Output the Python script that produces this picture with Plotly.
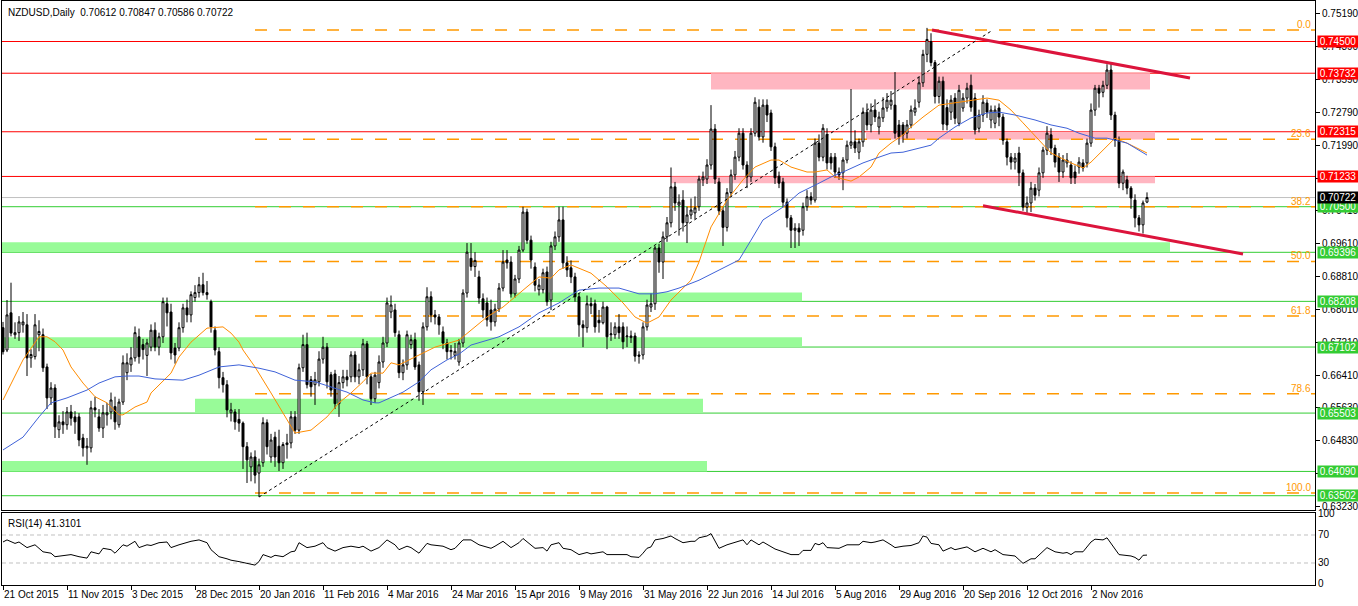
import plotly.graph_objects as go

# ---------------- data (prices in pips, 1e-4) ----------------
PIP = 10000.0
opens = [6757,6703,6793,6740,6745,6764,6764,6684,6687,6740,
6740,6662,6587,6611,6510,6529,6522,6553,6541,6541,
6490,6466,6466,6563,6541,6514,6546,6553,6566,6522,
6577,6648,6667,6684,6735,6716,6690,6710,6751,6710,
6735,6815,6795,6708,6708,6757,6805,6788,6830,6842,
6861,6842,6820,6751,6699,6636,6619,6551,6553,6535,
6526,6469,6420,6444,6405,6430,6527,6444,6492,6470,
6430,6474,6478,6541,6509,6660,6716,6631,6619,6626,
6681,6710,6643,6645,6573,6624,6638,6638,6691,6638,
6655,6718,6638,6585,6624,6674,6720,6795,6800,6740,
6648,6667,6716,6728,6667,6602,6759,6832,6788,6783,
6747,6720,6699,6690,6674,6720,6841,6925,6905,6880,
6827,6817,6800,6771,6802,6853,6921,6916,6839,6875,
6945,7037,6969,6904,6849,6849,6892,6824,6955,6977,
7018,6914,6902,6880,6832,6764,6757,6815,6815,6775,
6769,6807,6740,6740,6759,6759,6735,6733,6737,6691,
6691,6759,6807,6815,6950,6916,6977,7011,7098,7054,
7066,7011,7030,7035,7050,7115,7117,7151,7238,7110,
7040,7000,7084,7127,7170,7228,7151,7122,7228,7291,
7219,7296,7277,7195,7124,7110,7061,7023,6993,6998,
6993,7050,7074,7066,7204,7170,7225,7170,7170,7134,
7132,7163,7199,7207,7182,7207,7279,7248,7284,7243,
7265,7289,7296,7296,7248,7248,7228,7248,7279,7303,
7350,7419,7450,7399,7317,7354,7290,7279,7313,7252,
7289,7313,7344,7313,7240,7272,7301,7260,7252,7289,
7267,7207,7170,7158,7180,7132,7049,7059,7095,7090,
7132,7187,7224,7192,7170,7134,7156,7151,7134,7146,
7156,7156,7204,7284,7337,7327,7344,7381,7272,7211,
7107,7115,7095,7066,7023,7006,7061.2]
highs = [6771,6824,6866,6770,6785,6795,6790,6705,6790,6775,
6755,6670,6625,6620,6545,6555,6565,6570,6555,6550,
6500,6490,6580,6590,6560,6570,6575,6600,6590,6585,
6690,6695,6710,6760,6755,6730,6730,6765,6770,6745,
6830,6830,6815,6720,6770,6815,6825,6845,6860,6880,
6890,6870,6825,6760,6710,6650,6630,6575,6560,6560,
6530,6480,6455,6460,6440,6540,6535,6500,6505,6510,
6480,6500,6555,6555,6670,6740,6745,6640,6650,6700,
6735,6720,6650,6655,6640,6655,6655,6700,6700,6670,
6730,6725,6645,6650,6690,6735,6830,6835,6815,6750,
6680,6750,6740,6745,6675,6770,6855,6845,6800,6790,
6760,6730,6715,6720,6730,6850,6962,6962,6940,6895,
6840,6830,6825,6815,6865,6945,6945,6930,6885,6955,
7050,7045,6980,6915,6875,6900,6905,6965,6990,7050,
7050,6930,6920,6890,6840,6775,6835,6830,6825,6800,
6820,6810,6770,6770,6790,6770,6760,6750,6745,6700,
6770,6825,6840,6955,6960,6990,7025,7145,7110,7080,
7090,7050,7070,7075,7125,7135,7165,7296,7250,7120,
7050,7095,7140,7185,7240,7240,7160,7240,7315,7310,
7310,7310,7285,7205,7135,7120,7070,7030,7010,7010,
7060,7090,7085,7215,7225,7250,7240,7180,7180,7145,
7170,7210,7335,7235,7215,7290,7300,7300,7310,7280,
7315,7325,7330,7376,7260,7255,7260,7295,7310,7365,
7430,7483,7470,7405,7365,7365,7310,7320,7325,7345,
7325,7350,7370,7325,7285,7320,7310,7295,7295,7300,
7275,7215,7180,7180,7195,7140,7075,7110,7105,7145,
7195,7245,7240,7200,7180,7175,7180,7160,7150,7170,
7165,7215,7300,7345,7345,7355,7395,7400,7280,7220,
7140,7125,7100,7080,7030,7065,7084.7]
lows = [6692,6698,6736,6730,6725,6745,6640,6660,6680,6700,
6650,6560,6570,6490,6490,6500,6510,6520,6500,6470,
6445,6425,6455,6540,6505,6490,6520,6535,6510,6515,
6570,6630,6650,6675,6670,6680,6640,6700,6700,6690,
6720,6760,6680,6670,6700,6745,6770,6770,6820,6830,
6835,6825,6745,6690,6610,6600,6540,6530,6510,6505,
6415,6381,6385,6380,6347,6420,6450,6430,6420,6410,
6415,6440,6465,6500,6500,6650,6610,6590,6570,6615,
6670,6610,6590,6560,6541,6610,6615,6625,6625,6620,
6640,6620,6570,6575,6610,6660,6710,6780,6735,6635,
6630,6655,6705,6655,6580,6570,6750,6770,6765,6740,
6705,6680,6680,6680,6665,6710,6830,6895,6880,6815,
6780,6760,6750,6760,6795,6845,6900,6830,6830,6865,
6940,6960,6900,6845,6835,6840,6810,6800,6945,6965,
6900,6880,6865,6820,6735,6710,6745,6790,6745,6745,
6765,6705,6725,6730,6730,6705,6710,6720,6675,6670,
6680,6750,6795,6800,6890,6875,6965,7000,7040,6980,
6990,6962,7020,7020,7040,7100,7105,7140,7105,7030,
6955,6990,7075,7115,7160,7140,7095,7110,7220,7210,
7205,7255,7185,7105,7095,7050,7000,6950,6950,6955,
6980,7040,7055,7060,7160,7160,7140,7140,7120,7115,
7090,7155,7190,7180,7165,7195,7235,7230,7255,7225,
7255,7280,7285,7215,7200,7205,7215,7240,7270,7290,
7340,7400,7390,7300,7300,7235,7235,7260,7250,7245,
7280,7300,7280,7225,7230,7255,7265,7240,7240,7245,
7200,7150,7140,7140,7100,7040,7035,7037,7065,7075,
7120,7175,7175,7145,7110,7120,7145,7105,7105,7130,
7135,7145,7195,7270,7290,7315,7335,7260,7195,7095,
7090,7080,7045,7000,6990,6985,7058.6]
closes = [6699,6788,6744,6745,6771,6771,6684,6692,6764,6748,
6660,6587,6611,6517,6529,6522,6553,6538,6529,6485,
6466,6470,6563,6558,6514,6551,6551,6582,6529,6577,
6672,6672,6684,6745,6687,6704,6720,6751,6710,6735,
6820,6793,6696,6691,6757,6805,6788,6837,6842,6861,
6842,6837,6759,6703,6636,6619,6558,6558,6529,6526,
6469,6437,6444,6400,6425,6527,6469,6485,6444,6430,
6474,6478,6541,6509,6660,6716,6619,6614,6631,6681,
6710,6626,6606,6573,6624,6638,6631,6691,6638,6655,
6718,6638,6585,6642,6674,6720,6817,6812,6745,6648,
6667,6740,6728,6662,6602,6759,6832,6788,6783,6764,
6720,6699,6702,6700,6720,6841,6940,6905,6920,6829,
6800,6776,6771,6802,6853,6916,6914,6839,6875,6945,
7037,6969,6921,6860,6860,6890,6820,6955,6977,7018,
6914,6897,6880,6832,6764,6757,6815,6810,6759,6769,
6807,6735,6742,6759,6745,6723,6737,6737,6688,6688,
6759,6812,6815,6950,6916,6977,7011,7098,7059,7061,
7011,7030,7042,7047,7117,7122,7151,7238,7117,7040,
7000,7084,7127,7170,7228,7151,7122,7228,7303,7219,
7296,7272,7195,7120,7107,7061,7023,6993,6998,6989,
7050,7074,7066,7204,7170,7240,7156,7156,7134,7127,
7163,7199,7207,7192,7207,7279,7248,7284,7267,7267,
7289,7308,7308,7228,7219,7224,7248,7284,7289,7350,
7419,7455,7399,7317,7354,7250,7248,7308,7264,7332,
7313,7337,7291,7236,7272,7303,7279,7284,7284,7267,
7211,7170,7158,7168,7132,7049,7059,7095,7078,7132,
7187,7228,7192,7158,7134,7163,7163,7120,7120,7158,
7144,7204,7284,7337,7325,7344,7381,7272,7211,7107,
7134,7095,7071,7023,7006,7059,7072.2]

# moving averages: (bar, pips)
ma_fast = [(0,6582),(5,6679),(9,6735),(11,6735),(13,6723),(15,6703),(17,6662),(20,6623),(23,6590),(26,6575),
(29,6546),(30,6546),(33,6565),(36,6577),(37,6599),(42,6647),(44,6686),(47,6722),(51,6756),(55,6759),
(57,6744),(59,6722),(60,6703),(63,6662),(67,6599),(71,6534),(73,6502),(77,6509),(78,6517),(81,6541),
(84,6575),(87,6599),(90,6626),(92,6647),(95,6647),(97,6672),(99,6667),(103,6686),(108,6710),(114,6727),
(117,6752),(121,6783),(125,6807),(127,6824),(131,6856),(134,6880),(137,6877),(139,6897),(142,6909),(145,6897),
(147,6889),(151,6856),(155,6817),(158,6783),(161,6768),(164,6783),(167,6824),(172,6872),(174,6916),(177,7001),
(181,7066),(185,7115),(188,7146),(192,7163),(194,7163),(197,7146),(201,7134),(203,7134),(206,7139),(208,7122),
(212,7112),(214,7122),(217,7146),(219,7180),(222,7204),(225,7224),(227,7243),(230,7267),(234,7296),(239,7303),
(243,7308),(246,7313),(249,7308),(252,7284),(255,7253),(259,7211),(262,7180),(267,7156),(270,7144),(272,7158),
(276,7195),(278,7216),(281,7204),(286,7180)]
ma_slow = [(0,6461),(5,6492),(9,6541),(12,6575),(16,6587),(21,6606),(24,6623),(28,6638),(31,6640),(34,6640),
(38,6633),(45,6630),(49,6642),(54,6662),(59,6667),(64,6659),(68,6650),(73,6630),(78,6626),(82,6614),
(86,6601),(90,6582),(93,6575),(94,6575),(97,6589),(100,6601),(104,6626),(107,6655),(111,6679),(114,6693),
(117,6715),(124,6735),(129,6759),(134,6793),(139,6817),(144,6848),(149,6853),(154,6853),(159,6839),(163,6839),
(166,6844),(169,6853),(174,6872),(184,6921),(187,6969),(190,7018),(195,7049),(199,7083),(204,7107),(207,7122),
(210,7134),(215,7156),(219,7170),(222,7180),(225,7182),(229,7192),(232,7199),(234,7216),(238,7243),(242,7265),
(246,7277),(249,7279),(253,7272),(258,7260),(262,7248),(266,7240),(269,7228),(273,7216),(276,7216),(281,7204),
(286,7175)]
# RSI(14): (bar, value)
rsi_points = [(0,60),(1,63),(3,58),(4,60),(6,52),(8,56),(10,46),(12,44),(13,39),(15,40),(17,42),(19,39),(21,37),
(22,46),(24,43),(25,51),(27,49),(28,44),(30,56),(31,54),(33,61),(34,52),(36,56),(37,55),(39,59),(41,60),(42,52),
(44,56),(47,61),(49,63),(51,59),(52,49),(54,39),(56,36),(57,34),(59,32),(61,30),(63,27),(64,32),(65,42),(67,38),
(68,41),(70,39),(72,46),(73,47),(74,59),(76,52),(78,54),(80,59),(81,52),(83,47),(85,52),(87,54),(89,52),(90,54),
(92,47),(94,52),(96,63),(98,56),(99,49),(101,54),(102,52),(104,44),(106,58),(107,56),(110,54),(112,49),
(113,51),(115,63),(117,63),(119,56),(122,51),(123,54),(125,61),(127,52),(129,59),(130,65),(132,56),(133,51),
(135,52),(136,47),(137,56),(139,59),(140,51),(142,49),(144,42),(146,45),(147,43),(150,46),(151,42),(153,42),
(156,42),(157,39),(159,38),(160,44),(161,51),(162,53),(163,63),(165,65),(167,68.6),(168,65),(170,59),(172,61),
(173,61),(174,66),(176,68.6),(177,72),(179,51),(181,56),(183,60),(185,63),(186,56),(187,63),(189,56),(190,60),
(193,50),(195,46),(197,42),(199,42),(200,48),(202,48),(203,58),(204,56),(205,59),(206,52),(209,51),(211,56),
(214,56),(215,61),(217,59),(218,60),(220,63),(222,56),(223,52),(225,54),(227,55),(229,59),(230,68.6),(231,67),
(232,58),(234,56),(235,47),(237,52),(238,49),(241,53),(243,46),(245,51),(247,46),(248,49),(250,42),(253,40),
(255,29.5),(257,36),(258,36),(261,52),(263,46),(265,44),(266,45),(267,42),(268,46),(270,46),(272,60),(273,64),
(275,63),(276,66),(279,42),(282,40),(283,38),(284,34),(285,41),(286,41.31)]

date_labels = ["21 Oct 2015","11 Nov 2015","3 Dec 2015","28 Dec 2015","20 Jan 2016","11 Feb 2016",
               "4 Mar 2016","24 Mar 2016","15 Apr 2016","9 May 2016","31 May 2016","22 Jun 2016",
               "14 Jul 2016","5 Aug 2016","29 Aug 2016","20 Sep 2016","12 Oct 2016","2 Nov 2016"]
BARS_PER_LABEL = 16
price_ticks = [0.75190,0.74390,0.73590,0.72790,0.71990,0.71190,0.70410,0.69610,
               0.68810,0.68010,0.67210,0.66410,0.65630,0.64830,0.64030,0.63230]
rsi_ticks = [100, 70, 30, 0]
rsi_levels = [70, 30]

red_levels = [0.74500, 0.73732, 0.72315, 0.71233]
green_levels = [0.70500, 0.69396, 0.68208, 0.67102, 0.65503, 0.64090, 0.63502]
last_price = 0.70722
header = "NZDUSD,Daily  0.70612 0.70847 0.70586 0.70722"
rsi_label = "RSI(14) 41.3101"

fib_high, fib_low, fib_start_bar = 0.7478, 0.6357, 63
fib_ratios = [0.0, 23.6, 38.2, 50.0, 61.8, 78.6, 100.0]

# zones: (bar0, bar1, price0, price1)
pink_zones = [(177, 286.75, 0.73732, 0.7334), (215.75, 288, 0.72315, 0.7213), (167, 288, 0.71233, 0.7107)]
green_zones = [(-0.25, 291.75, 0.69396, 0.6964), (126.75, 199.75, 0.68208, 0.6842),
               (-0.25, 199.75, 0.67102, 0.6734), (48, 175, 0.65503, 0.6585), (-0.25, 176, 0.64090, 0.6434)]
# trend lines: ((bar, price), (bar, price))
dotted_trend = ((64, 0.6347), (247, 0.7475))
channel_upper = ((232.25, 0.7478), (296.75, 0.73616))
channel_lower = ((245, 0.70525), (310, 0.69355))

# ---------------- figure ----------------
bars = list(range(len(closes)))
FONT = "Liberation Sans, Arial, sans-serif"
XR = [-0.25, 328]

fig = go.Figure()
fig.add_trace(go.Candlestick(
    x=bars, open=[v / PIP for v in opens], high=[v / PIP for v in highs],
    low=[v / PIP for v in lows], close=[v / PIP for v in closes],
    increasing=dict(line=dict(color="black", width=1), fillcolor="white"),
    decreasing=dict(line=dict(color="black", width=1), fillcolor="black"),
    whiskerwidth=0, xaxis="x", yaxis="y", hoverinfo="skip"))
fig.add_trace(go.Scatter(x=[b for b, _ in ma_fast], y=[v / PIP for _, v in ma_fast], mode="lines",
                         line=dict(color="#FF8C00", width=1), xaxis="x", yaxis="y"))
fig.add_trace(go.Scatter(x=[b for b, _ in ma_slow], y=[v / PIP for _, v in ma_slow], mode="lines",
                         line=dict(color="#3F62D8", width=1), xaxis="x", yaxis="y"))
fig.add_trace(go.Scatter(x=[b for b, _ in rsi_points], y=[v for _, v in rsi_points], mode="lines",
                         line=dict(color="black", width=1), xaxis="x2", yaxis="y2"))

shapes = []
for b0, b1, p0, p1 in green_zones:
    shapes.append(dict(type="rect", xref="x", yref="y", x0=b0, x1=b1, y0=p0, y1=p1,
                       fillcolor="#98FB98", line=dict(width=0), layer="below"))
for b0, b1, p0, p1 in pink_zones:
    shapes.append(dict(type="rect", xref="x", yref="y", x0=b0, x1=b1, y0=p0, y1=p1,
                       fillcolor="#FFB6C1", line=dict(width=0), layer="below"))
for lv in red_levels:
    shapes.append(dict(type="line", xref="paper", yref="y", x0=0, x1=1, y0=lv, y1=lv,
                       line=dict(color="#FF0000", width=1), layer="below"))
for lv in green_levels:
    shapes.append(dict(type="line", xref="paper", yref="y", x0=0, x1=1, y0=lv, y1=lv,
                       line=dict(color="#32CD32", width=1), layer="below"))
shapes.append(dict(type="line", xref="paper", yref="y", x0=0, x1=1, y0=last_price, y1=last_price,
                   line=dict(color="#C0C0C0", width=1), layer="below"))
fib_levels = [fib_high - r / 100.0 * (fib_high - fib_low) for r in fib_ratios]
for lv in fib_levels:
    shapes.append(dict(type="line", xref="x", yref="y", x0=fib_start_bar, x1=XR[1], y0=lv, y1=lv,
                       line=dict(color="#FF9900", width=1.5, dash="12px,12px"), layer="below"))
for lv in rsi_levels:
    shapes.append(dict(type="line", xref="paper", yref="y2", x0=0, x1=1, y0=lv, y1=lv,
                       line=dict(color="#C0C0C0", width=1, dash="4px,3px"), layer="below"))
(a, b) = dotted_trend
shapes.append(dict(type="line", xref="x", yref="y", x0=a[0], y0=a[1], x1=b[0], y1=b[1],
                   line=dict(color="black", width=1, dash="dot")))
for (a, b) in (channel_upper, channel_lower):
    shapes.append(dict(type="line", xref="x", yref="y", x0=a[0], y0=a[1], x1=b[0], y1=b[1],
                       line=dict(color="#DC143C", width=3)))

ann = []
def level_box(val, color):
    ann.append(dict(xref="paper", yref="y", x=1, y=val, xanchor="left", yanchor="middle", xshift=2,
                    text=f"{val:.5f}", showarrow=False, bgcolor=color, borderpad=0, width=40, height=11,
                    font=dict(family=FONT, size=10, color="white")))
for lv in red_levels:
    level_box(lv, "#FF0000")
for lv in green_levels:
    level_box(lv, "#33CC33")
level_box(last_price, "#000000")
for r, lv in zip(fib_ratios, fib_levels):
    ann.append(dict(xref="paper", yref="y", x=1, y=lv, xanchor="right", yanchor="bottom", xshift=-3, yshift=-1,
                    text=f"{r:.1f}", showarrow=False, borderpad=0,
                    font=dict(family=FONT, size=10, color="#FF9900")))
ann.append(dict(xref="paper", yref="paper", x=0, y=1, xanchor="left", yanchor="top", xshift=4, yshift=-4,
                text=header, showarrow=False, font=dict(family=FONT, size=10, color="black")))
ann.append(dict(xref="paper", yref="y2 domain", x=0, y=1, xanchor="left", yanchor="top", xshift=4, yshift=-3,
                text=rsi_label, showarrow=False, font=dict(family=FONT, size=10, color="black")))

tick_bars = [i * BARS_PER_LABEL for i in range(len(date_labels))]
axis_common = dict(showgrid=False, zeroline=False, showline=True, mirror=True, linecolor="black", linewidth=1)

fig.update_layout(
    width=1358, height=606, margin=dict(l=2, r=43, t=1, b=21, autoexpand=False),
    paper_bgcolor="white", plot_bgcolor="white", showlegend=False,
    font=dict(family=FONT, size=10, color="black"),
    shapes=shapes, annotations=ann,
    xaxis=dict(domain=[0, 1], anchor="y", range=XR, showticklabels=False, ticks="",
               rangeslider=dict(visible=False), **axis_common),
    yaxis=dict(domain=[0.12842, 1], anchor="x", range=[0.63156, 0.75481], side="right",
               tickvals=price_ticks, ticktext=[f"{t:.5f}" for t in price_ticks],
               ticks="outside", ticklen=4, tickcolor="black",
               tickfont=dict(family=FONT, size=10, color="black"), **axis_common),
    xaxis2=dict(domain=[0, 1], anchor="y2", range=XR, matches="x",
                tickvals=tick_bars, ticktext=date_labels, ticks="outside", ticklen=4, tickcolor="black",
                ticklabelposition="outside right", tickangle=0,
                tickfont=dict(family=FONT, size=10, color="black"), **axis_common),
    yaxis2=dict(domain=[0, 0.12329], anchor="x2", range=[-1.43, 101.43], side="right",
                tickvals=rsi_ticks, ticktext=[str(t) for t in rsi_ticks], ticks="",
                tickfont=dict(family=FONT, size=10, color="black"), **axis_common),
)

fig.write_html("out.html", config={"displayModeBar": False},
               post_script="document.body.style.margin='0';document.body.style.overflow='hidden';")
